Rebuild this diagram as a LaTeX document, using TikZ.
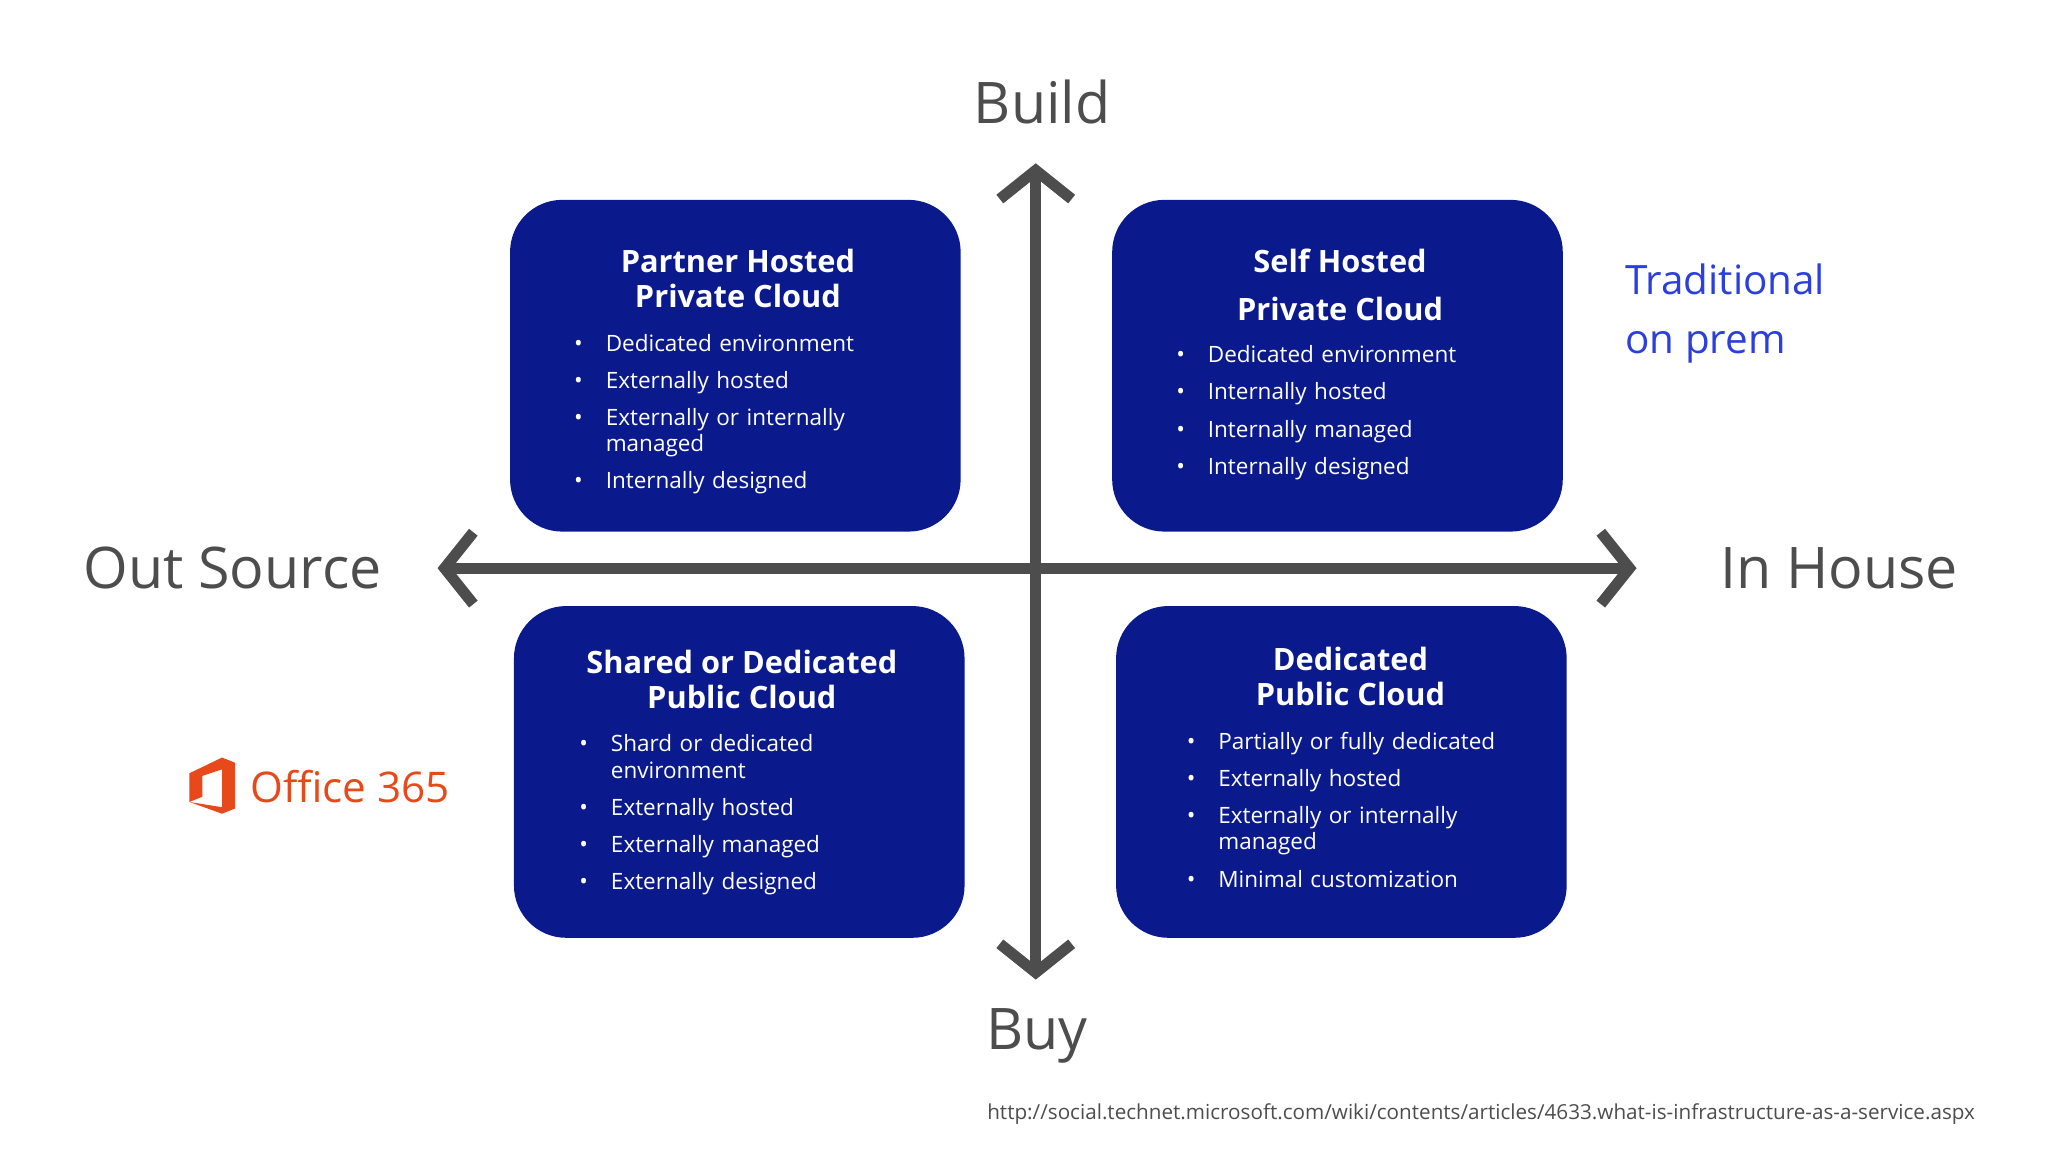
\documentclass[tikz,border=0pt]{standalone}
\usepackage{fontspec}
\setmainfont{Open Sans}
\usepackage{enumitem}
\usetikzlibrary{arrows.meta, positioning}
\definecolor{quadblue}{HTML}{0A1A8C}
\definecolor{axisgray}{HTML}{4D4D4D}
\definecolor{tradblue}{HTML}{2B3FE0}
\definecolor{officered}{HTML}{E8491B}
\newcommand{\quadlist}[1]{\begin{itemize}[leftmargin=6pt, itemsep=2.4pt, parsep=0pt, topsep=0pt, label={\tiny\textbullet}]#1\end{itemize}}

\begin{document}
\begin{tikzpicture}[
    x=0.1mm, y=-0.1mm,
    quad/.style={rectangle, rounded corners=4mm, fill=quadblue, minimum width=34.5mm, minimum height=25.4mm},
    qtitle/.style={text=white, font=\fontsize{6.7}{7.6}\selectfont\bfseries, align=center},
    qlist/.style={text=white, font=\fontsize{4.9}{5.7}\selectfont, text width=27mm, inner sep=0pt, anchor=north west},
    axis/.style={line width=2.4pt, draw=axisgray, {Straight Barb[length=2.2mm, width=5.5mm, line width=2.4pt]}-{Straight Barb[length=2.2mm, width=5.5mm, line width=2.4pt]}},
    dirlabel/.style={text=axisgray, font=\fontsize{12.5}{15}\selectfont}
]
\useasboundingbox (0,0) rectangle (1568,882);

% quadrants
\node[quad] (tl) at (563,280) {};
\node[quad] (tr) at (1024,280) {};
\node[quad] (bl) at (566,591) {};
\node[quad] (br) at (1027,591) {};

\node[qtitle] (tlt) at (565,213) {Partner Hosted\\Private Cloud};
\node[qlist] (tll) at (442,248) {\quadlist{\item Dedicated environment \item Externally hosted \item Externally or internally managed \item Internally designed}};

\node[qtitle] (trt) at (1026,218) {Self Hosted\\[3pt]Private Cloud};
\node[qlist] (trl) at (903,257) {\quadlist{\item Dedicated environment \item Internally hosted \item Internally managed \item Internally designed}};

\node[qtitle] (blt) at (568,520) {Shared or Dedicated\\Public Cloud};
\node[qlist] (bll) at (446,555) {\quadlist{\item Shard or dedicated environment \item Externally hosted \item Externally managed \item Externally designed}};

\node[qtitle] (brt) at (1034,518) {Dedicated\\Public Cloud};
\node[qlist] (brl) at (911,553) {\quadlist{\item Partially or fully dedicated \item Externally hosted \item Externally or internally managed \item Minimal customization}};

% axes
\coordinate (top) at (793,125);
\coordinate (bottom) at (793,750);
\coordinate (left) at (335,435);
\coordinate (right) at (1253,435);
\draw[axis] (bottom) -- (top);
\draw[axis] (left) -- (right);

\node[dirlabel] (build) at (798,78) {Build};
\node[dirlabel] (buy) at (794,793) {Buy};
\node[dirlabel] (out) at (178,435) {Out Source};
\node[dirlabel] (in) at (1408,435) {In House};

\node[text=tradblue, font=\fontsize{8.8}{12.8}\selectfont, align=left, anchor=west] (trad) at (1232,240) {Traditional\\on prem};

% office logo
\fill[officered] (145,592) -- (170,580) -- (180,584) -- (180,619) -- (170,623) -- (145,614) -- (170,618) -- (170,589) -- (155,594) -- (155,610) -- (145,614) -- cycle;
\node[text=officered, font=\fontsize{9.2}{12}\selectfont, anchor=west, inner sep=0pt] (office) at (191,602) {Office 365};

\node[text=axisgray, font=\fontsize{4.5}{5}\selectfont] (url) at (1134,853) {http://social.technet.microsoft.com/wiki/contents/articles/4633.what-is-infrastructure-as-a-service.aspx};
\end{tikzpicture}
\end{document}
